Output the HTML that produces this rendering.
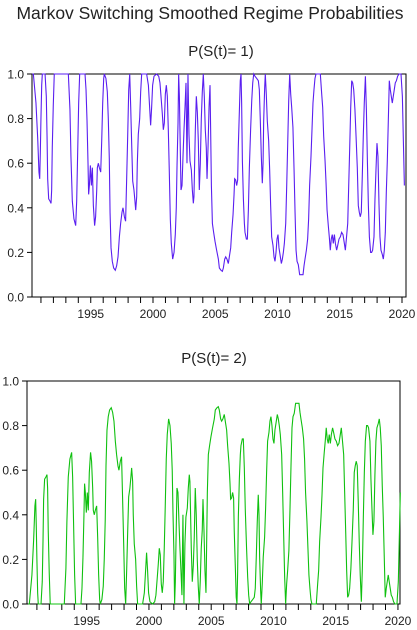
<!DOCTYPE html>
<html><head><meta charset="utf-8"><style>
body{margin:0;background:#fff;width:417px;height:630px;overflow:hidden}
svg{display:block}
text{font-family:"Liberation Sans",sans-serif;fill:#222}
</style></head><body>
<svg id="chart" width="417" height="630" viewBox="0 0 417 630" xmlns="http://www.w3.org/2000/svg">
<text x="210" y="19" font-size="17.5" text-anchor="middle">Markov Switching Smoothed Regime Probabilities</text>
<text x="221" y="56" font-size="15" text-anchor="middle">P(S(t)= 1)</text>
<text x="214" y="363" font-size="15" text-anchor="middle">P(S(t)= 2)</text>
<g id="p1g"></g>
<g id="p2g"></g>
</svg>
<script>
const dates=[1990.30,1990.39,1990.60,1990.74,1990.84,1990.90,1990.95,1991.00,1991.06,1991.11,1991.33,1991.43,1991.49,1991.54,1991.62,1991.73,1991.81,1991.86,1991.91,1991.99,1992.07,1993.20,1993.33,1993.41,1993.52,1993.65,1993.79,1993.87,1993.95,1994.03,1994.11,1994.54,1994.62,1994.70,1994.78,1994.83,1994.89,1994.97,1995.05,1995.13,1995.21,1995.31,1995.39,1995.48,1995.53,1995.61,1995.69,1995.80,1995.88,1995.96,1996.04,1996.09,1996.22,1996.33,1996.41,1996.49,1996.55,1996.63,1996.73,1996.84,1996.97,1997.08,1997.19,1997.30,1997.40,1997.51,1997.59,1997.70,1997.80,1997.88,1997.97,1998.05,1998.13,1998.21,1998.29,1998.37,1998.47,1998.55,1998.61,1998.69,1998.74,1998.82,1998.93,1999.01,1999.09,1999.49,1999.63,1999.76,1999.81,1999.89,1999.97,2000.08,2000.29,2000.46,2000.56,2000.67,2000.75,2000.83,2000.91,2000.99,2001.07,2001.15,2001.23,2001.31,2001.39,2001.47,2001.58,2001.69,2001.79,2001.87,2001.93,2002.01,2002.06,2002.12,2002.17,2002.25,2002.33,2002.41,2002.49,2002.57,2002.65,2002.73,2002.81,2002.89,2002.97,2003.08,2003.16,2003.24,2003.29,2003.40,2003.48,2003.56,2003.64,2003.72,2003.80,2003.88,2003.96,2004.04,2004.12,2004.20,2004.28,2004.34,2004.42,2004.50,2004.58,2004.63,2004.69,2004.77,2004.87,2004.98,2005.11,2005.25,2005.33,2005.46,2005.57,2005.65,2005.76,2005.84,2005.94,2006.05,2006.13,2006.24,2006.32,2006.43,2006.51,2006.56,2006.64,2006.72,2006.80,2006.85,2006.93,2007.01,2007.07,2007.12,2007.18,2007.26,2007.34,2007.39,2007.50,2007.58,2007.66,2007.74,2007.84,2007.93,2008.01,2008.09,2008.19,2008.33,2008.46,2008.54,2008.62,2008.70,2008.78,2008.84,2008.89,2008.97,2009.02,2009.10,2009.18,2009.29,2009.37,2009.45,2009.53,2009.64,2009.72,2009.80,2009.88,2009.96,2010.04,2010.12,2010.23,2010.31,2010.39,2010.47,2010.55,2010.66,2010.74,2010.82,2010.90,2010.98,2011.06,2011.14,2011.24,2011.33,2011.41,2011.49,2011.57,2011.67,2011.78,2011.94,2012.05,2012.13,2012.21,2012.32,2012.42,2012.50,2012.58,2012.69,2012.77,2012.85,2012.93,2013.01,2013.09,2013.44,2013.55,2013.63,2013.71,2013.82,2013.90,2013.98,2014.08,2014.16,2014.24,2014.32,2014.40,2014.48,2014.57,2014.65,2014.75,2014.83,2014.94,2015.05,2015.15,2015.26,2015.37,2015.45,2015.53,2015.64,2015.72,2015.80,2015.88,2015.96,2016.04,2016.12,2016.22,2016.31,2016.41,2016.49,2016.57,2016.65,2016.73,2016.81,2016.89,2016.97,2017.06,2017.14,2017.22,2017.30,2017.38,2017.48,2017.56,2017.64,2017.75,2017.83,2017.91,2017.99,2018.07,2018.15,2018.23,2018.31,2018.42,2018.50,2018.58,2018.66,2018.74,2018.82,2018.90,2018.98,2019.06,2019.14,2019.22,2019.30,2019.38,2019.46,2019.55,2019.65,2019.76,2019.92,2020.03,2020.11,2020.19];
const p1=[1,1,0.87,0.71,0.56,0.53,0.65,0.80,0.95,1,1,0.90,0.72,0.53,0.44,0.43,0.42,0.48,0.67,0.86,1,1,0.84,0.63,0.43,0.35,0.32,0.43,0.65,0.87,1,1,0.93,0.79,0.60,0.46,0.50,0.59,0.50,0.58,0.41,0.32,0.36,0.48,0.58,0.60,0.58,0.56,0.70,0.87,0.98,1,0.98,0.92,0.80,0.62,0.38,0.22,0.16,0.13,0.12,0.14,0.18,0.27,0.33,0.38,0.40,0.36,0.34,0.52,0.73,0.93,1,0.85,0.68,0.52,0.48,0.43,0.39,0.45,0.60,0.73,0.80,0.92,1,1,0.95,0.82,0.77,0.85,0.95,0.99,1,0.99,0.96,0.88,0.82,0.75,0.78,0.91,0.95,0.90,0.75,0.56,0.35,0.24,0.17,0.20,0.28,0.40,0.59,0.78,1,0.90,0.73,0.48,0.50,0.63,0.75,0.85,0.96,0.60,1,0.73,0.61,0.57,0.48,0.42,0.45,0.75,0.90,0.83,0.70,0.48,0.60,0.80,0.92,1,0.90,0.75,0.67,0.53,0.67,0.85,0.95,0.75,0.50,0.33,0.29,0.25,0.21,0.17,0.13,0.12,0.115,0.13,0.17,0.18,0.17,0.15,0.18,0.22,0.29,0.37,0.46,0.53,0.525,0.50,0.525,0.67,0.82,0.97,1,0.87,0.61,0.44,0.33,0.29,0.26,0.26,0.39,0.58,0.75,0.88,0.96,1,0.99,0.98,0.97,0.93,0.79,0.63,0.51,0.60,0.79,0.94,1,0.91,0.79,0.70,0.57,0.41,0.27,0.23,0.18,0.16,0.20,0.26,0.28,0.22,0.18,0.15,0.17,0.20,0.24,0.33,0.50,0.69,0.88,1,0.91,0.85,0.76,0.57,0.38,0.21,0.16,0.145,0.10,0.10,0.10,0.14,0.17,0.21,0.26,0.35,0.50,0.63,0.75,0.87,0.93,0.98,1,1,0.91,0.85,0.72,0.61,0.51,0.39,0.32,0.27,0.21,0.26,0.28,0.24,0.28,0.24,0.21,0.23,0.26,0.27,0.29,0.28,0.24,0.21,0.26,0.33,0.50,0.67,0.85,0.97,0.96,0.93,0.84,0.72,0.58,0.41,0.38,0.36,0.38,0.54,0.72,0.87,0.99,0.84,0.61,0.41,0.27,0.20,0.20,0.21,0.27,0.44,0.57,0.69,0.63,0.42,0.27,0.21,0.19,0.17,0.21,0.29,0.47,0.61,0.79,0.97,0.93,0.90,0.87,0.90,0.93,0.96,0.97,0.99,1,1,0.90,0.70,0.50];
const p2=[0,0,0.13,0.29,0.44,0.47,0.35,0.20,0.05,0,0,0.10,0.28,0.47,0.56,0.57,0.58,0.52,0.33,0.14,0,0,0.16,0.37,0.57,0.65,0.68,0.57,0.35,0.13,0,0,0.07,0.21,0.40,0.54,0.50,0.41,0.50,0.42,0.59,0.68,0.64,0.52,0.42,0.40,0.42,0.44,0.30,0.13,0.02,0,0.02,0.08,0.20,0.38,0.62,0.78,0.84,0.87,0.88,0.86,0.82,0.73,0.67,0.62,0.60,0.64,0.66,0.48,0.27,0.07,0,0.15,0.32,0.48,0.52,0.57,0.61,0.55,0.40,0.27,0.20,0.08,0,0,0.05,0.18,0.23,0.15,0.05,0.01,0,0.01,0.04,0.12,0.18,0.25,0.22,0.09,0.05,0.10,0.25,0.44,0.65,0.76,0.83,0.80,0.72,0.60,0.41,0.22,0,0.10,0.27,0.52,0.50,0.37,0.25,0.15,0.04,0.40,0,0.27,0.39,0.43,0.52,0.58,0.55,0.25,0.10,0.17,0.30,0.52,0.40,0.20,0.08,0,0.10,0.25,0.33,0.47,0.33,0.15,0.05,0.25,0.50,0.67,0.71,0.75,0.79,0.83,0.87,0.88,0.885,0.87,0.83,0.82,0.83,0.85,0.82,0.78,0.71,0.63,0.54,0.47,0.475,0.50,0.475,0.33,0.18,0.03,0,0.13,0.39,0.56,0.67,0.71,0.74,0.74,0.61,0.42,0.25,0.12,0.04,0,0.01,0.02,0.03,0.07,0.21,0.37,0.49,0.40,0.21,0.06,0,0.09,0.21,0.30,0.43,0.59,0.73,0.77,0.82,0.84,0.80,0.74,0.72,0.78,0.82,0.85,0.83,0.80,0.76,0.67,0.50,0.31,0.12,0,0.09,0.15,0.24,0.43,0.62,0.79,0.84,0.855,0.90,0.90,0.90,0.86,0.83,0.79,0.74,0.65,0.50,0.37,0.25,0.13,0.07,0.02,0,0,0.09,0.15,0.28,0.39,0.49,0.61,0.68,0.73,0.79,0.74,0.72,0.76,0.72,0.76,0.79,0.77,0.74,0.73,0.71,0.72,0.76,0.79,0.74,0.67,0.50,0.33,0.15,0.03,0.04,0.07,0.16,0.28,0.42,0.59,0.62,0.64,0.62,0.46,0.28,0.13,0.01,0.16,0.39,0.59,0.73,0.80,0.80,0.79,0.73,0.56,0.43,0.31,0.37,0.58,0.73,0.79,0.81,0.83,0.79,0.71,0.53,0.39,0.21,0.03,0.07,0.10,0.13,0.10,0.07,0.04,0.03,0.01,0,0,0.10,0.30,0.50];
const yTicks=[0,0.2,0.4,0.6,0.8,1.0];
const yTickLabels=["0.0","0.2","0.4","0.6","0.8","1.0"];
const xLabelYears=[1995,2000,2005,2010,2015,2020];
const NS="http://www.w3.org/2000/svg";
function mk(tag,attrs,parent){const e=document.createElementNS(NS,tag);for(const k in attrs)e.setAttribute(k,attrs[k]);parent.appendChild(e);return e;}
function panel(g,cfg,vals,color,nm){
  const xs=yr=>cfg.x0+(yr-cfg.y0)*cfg.ppy;
  const ys=v=>cfg.bot-(cfg.bot-cfg.top)*v;
  const fr=mk('rect',{x:cfg.left,y:cfg.top,width:cfg.right-cfg.left,height:cfg.bot-cfg.top,fill:'none',stroke:'#000','stroke-width':1},g);
  
  
  yTicks.forEach((v,i)=>{
    const t=mk('line',{x1:cfg.left-5,x2:cfg.left,y1:ys(v),y2:ys(v),stroke:'#000'},g);
    
    
    const l=mk('text',{x:cfg.left-8,y:ys(v)+4.5,'font-size':12,'text-anchor':'end'},g);
    l.textContent=yTickLabels[i];
    
    
  });
  for(let yr=1991;yr<=2020;yr++){
    const x=xs(yr);if(x<cfg.left||x>cfg.right)continue;
    const t=mk('line',{x1:x,x2:x,y1:cfg.bot,y2:cfg.bot+6,stroke:'#000'},g);
    
    
  }
  xLabelYears.forEach(yr=>{
    const l=mk('text',{x:xs(yr),y:cfg.bot+21,'font-size':12,'text-anchor':'middle'},g);
    l.textContent=String(yr);
    
    
  });
  let d='';
  dates.forEach((yr,i)=>{d+=(i?'L':'M')+xs(yr).toFixed(2)+' '+ys(vals[i]).toFixed(2);});
  const p=mk('path',{d:d,fill:'none',stroke:color,'stroke-width':1.1},g);
  
  
}
panel(document.getElementById('p1g'),{left:32,right:406,top:74,bot:297,x0:153,y0:2000,ppy:12.45},p1,'#5a1ff0','regime-1-probability-line');
panel(document.getElementById('p2g'),{left:27,right:400,top:381,bot:604,x0:86.7,y0:1995,ppy:12.45},p2,'#10c010','regime-2-probability-line');
</script>
</body></html>
